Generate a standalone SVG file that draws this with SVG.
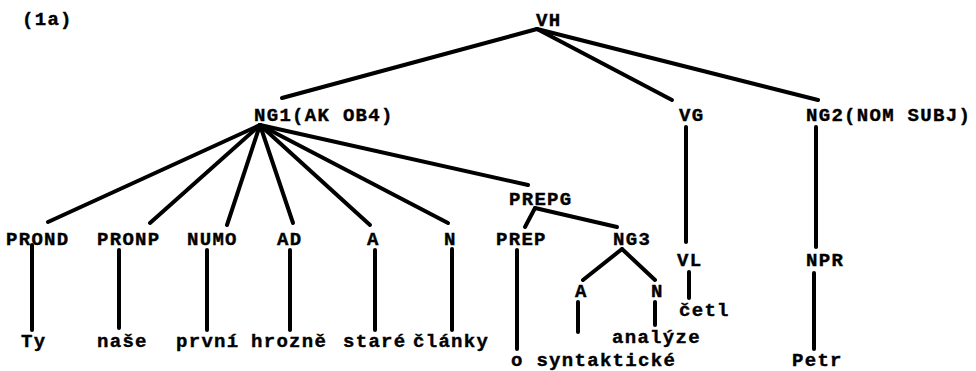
<svg xmlns="http://www.w3.org/2000/svg" width="976" height="371" viewBox="0 0 976 371">
<style>
text{font-family:"Liberation Mono","DejaVu Sans Mono",monospace;font-weight:bold;font-size:19px;letter-spacing:1.3px;fill:#000;stroke:#000;stroke-width:0.4px}
.e{stroke:#000;stroke-width:4;stroke-linecap:round;fill:none}
</style>
<rect width="976" height="371" fill="#fff"/>
<text id="label" x="22" y="25">(1a)</text>
<g id="edges">
<line class="e" x1="537" y1="29" x2="282" y2="98"/>
<line class="e" x1="537" y1="29" x2="672" y2="100"/>
<line class="e" x1="537" y1="29" x2="818" y2="100"/>
<line class="e" x1="260" y1="125" x2="48" y2="222"/>
<line class="e" x1="260" y1="125" x2="150" y2="223"/>
<line class="e" x1="260" y1="125" x2="227" y2="225"/>
<line class="e" x1="260" y1="125" x2="293" y2="223"/>
<line class="e" x1="260" y1="125" x2="370" y2="225"/>
<line class="e" x1="260" y1="125" x2="448" y2="223"/>
<line class="e" x1="260" y1="125" x2="528" y2="185"/>
<line class="e" x1="535" y1="208" x2="525" y2="227"/>
<line class="e" x1="535" y1="208" x2="617" y2="227"/>
<line class="e" x1="622" y1="249" x2="583" y2="280"/>
<line class="e" x1="622" y1="249" x2="655" y2="280"/>
<line class="e" x1="32" y1="245" x2="32" y2="330"/>
<line class="e" x1="119" y1="250" x2="119" y2="328"/>
<line class="e" x1="207" y1="250" x2="207" y2="330"/>
<line class="e" x1="290" y1="250" x2="290" y2="330"/>
<line class="e" x1="375" y1="250" x2="375" y2="330"/>
<line class="e" x1="452" y1="249" x2="452" y2="330"/>
<line class="e" x1="517" y1="250" x2="517" y2="349"/>
<line class="e" x1="578" y1="302" x2="578" y2="332"/>
<line class="e" x1="655" y1="302" x2="655" y2="325"/>
<line class="e" x1="686" y1="127" x2="686" y2="242"/>
<line class="e" x1="689" y1="272" x2="689" y2="298"/>
<line class="e" x1="816" y1="127" x2="816" y2="247"/>
<line class="e" x1="814" y1="273" x2="814" y2="349"/>
</g>
<g id="VH"><text x="536" y="26">VH</text></g>
<g id="NG1"><text x="254" y="121">NG1(AK OB4)</text></g>
<g id="VG"><text x="679" y="121">VG</text></g>
<g id="NG2"><text x="806" y="121">NG2(NOM SUBJ)</text></g>
<g id="PROND"><text x="6" y="245">PROND</text></g>
<g id="PRONP"><text x="97" y="245">PRONP</text></g>
<g id="NUMO"><text x="187" y="245">NUMO</text></g>
<g id="AD"><text x="277" y="245">AD</text></g>
<g id="A1"><text x="367" y="245">A</text></g>
<g id="N1"><text x="444" y="245">N</text></g>
<g id="PREPG"><text x="509" y="205">PREPG</text></g>
<g id="PREP"><text x="496" y="245">PREP</text></g>
<g id="NG3"><text x="613" y="245">NG3</text></g>
<g id="A2"><text x="575" y="297">A</text></g>
<g id="N2"><text x="651" y="297">N</text></g>
<g id="VL"><text x="677" y="266">VL</text></g>
<g id="NPR"><text x="806" y="266">NPR</text></g>
<g id="w-Ty"><text x="21" y="347">Ty</text></g>
<g id="w-nase"><text x="97" y="347">naše</text></g>
<g id="w-prvni"><text x="176" y="347">první</text></g>
<g id="w-hrozne"><text x="251" y="347">hrozně</text></g>
<g id="w-stare"><text x="343" y="347">staré</text></g>
<g id="w-clanky"><text x="413" y="347">články</text></g>
<g id="w-o-synt"><text x="511" y="366">o syntaktické</text></g>
<g id="w-analyze"><text x="612" y="343">analýze</text></g>
<g id="w-cetl"><text x="679" y="316">četl</text></g>
<g id="w-Petr"><text x="792" y="366">Petr</text></g>
</svg>
